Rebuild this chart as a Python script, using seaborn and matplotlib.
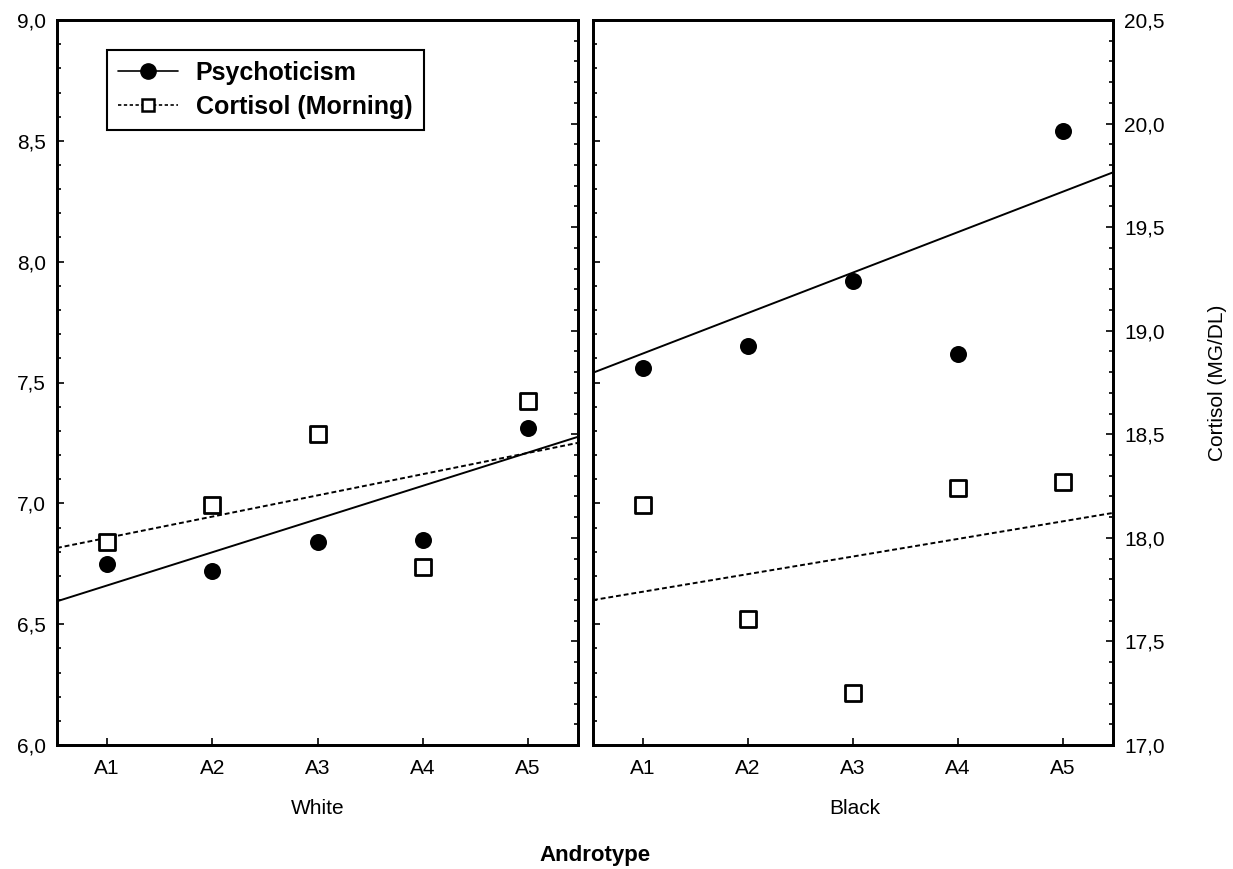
import matplotlib
matplotlib.use("Agg")
import matplotlib.pyplot as plt
from matplotlib.lines import Line2D
from matplotlib.ticker import FuncFormatter, MultipleLocator
import seaborn as sns
import pandas as pd
import numpy as np

# ---- data ----
categories = ["A1", "A2", "A3", "A4", "A5"]
groups = ["White", "Black"]
psych_white = [6.75, 6.72, 6.84, 6.85, 7.31]
cort_white = [17.98, 18.16, 18.50, 17.86, 18.66]
psych_black = [7.56, 7.65, 7.92, 7.62, 8.54]
cort_black = [18.16, 17.61, 17.25, 18.24, 18.27]
# fitted trend values at A1 and A5
psych_trend_white = [6.66, 7.21]
cort_trend_white = [18.00, 18.41]
psych_trend_black = [7.62, 8.29]
cort_trend_black = [17.74, 18.08]

psych_lim = (6.0, 9.0)
cort_lim = (17.0, 20.5)

sns.set_style("ticks")
plt.rcParams["font.family"] = ["Liberation Sans", "DejaVu Sans"]
plt.rcParams["text.color"] = "black"
plt.rcParams["xtick.color"] = "black"
plt.rcParams["ytick.color"] = "black"
plt.rcParams["axes.labelcolor"] = "black"

fig = plt.figure(figsize=(12.33, 8.69), dpi=100)
axL = fig.add_axes([57 / 1233, 1 - 745 / 869, 521 / 1233, 725 / 869])
axR = fig.add_axes([593 / 1233, 1 - 745 / 869, 520 / 1233, 725 / 869])

comma = FuncFormatter(lambda v, p: f"{v:.1f}".replace(".", ","))

panels = [
    (axL, psych_white, cort_white, psych_trend_white, cort_trend_white, True),
    (axR, psych_black, cort_black, psych_trend_black, cort_trend_black, False),
]
xpos = np.arange(len(categories))
for ax, ps, cs, pt, ct, is_left in panels:
    ax2 = ax.twinx()
    df = pd.DataFrame({"x": xpos, "psych": ps, "cort": cs})
    ax.set_xlim(-0.475, 4.475)
    ax.set_ylim(*psych_lim)
    ax2.set_ylim(*cort_lim)
    sns.scatterplot(data=df, x="x", y="psych", ax=ax, marker="o", s=150,
                    color="black", edgecolor="black", linewidth=0, zorder=3)
    sns.scatterplot(data=df, x="x", y="cort", ax=ax2, marker="s", s=120,
                    facecolor="white", edgecolor="black", linewidth=2, zorder=3)
    ax.axline((0, pt[0]), (4, pt[1]), color="black", lw=1.4, ls="-")
    ax2.axline((0, ct[0]), (4, ct[1]), color="black", lw=1.4, ls=(0, (2.5, 1.5)))
    ax.set_xticks(xpos)
    ax.set_xticklabels(categories)
    for a in (ax, ax2):
        a.set_xlabel("")
        a.set_ylabel("")
        a.yaxis.set_major_locator(MultipleLocator(0.5))
        a.yaxis.set_minor_locator(MultipleLocator(0.1))
        a.yaxis.set_major_formatter(comma)
        a.tick_params(axis="both", which="both", direction="in", labelsize=15,
                      color="black", labelcolor="black", width=1.2)
        a.tick_params(axis="both", which="major", length=5)
        a.tick_params(axis="both", which="minor", length=3)
        for s in a.spines.values():
            s.set_visible(True)
            s.set_linewidth(2)
            s.set_color("black")
    ax.tick_params(axis="x", pad=10)
    ax.tick_params(axis="y", pad=8)
    ax2.tick_params(axis="y", pad=8)
    if is_left:
        ax2.tick_params(axis="y", labelright=False)
    else:
        ax.tick_params(axis="y", labelleft=False)
        ax2.set_ylabel("Cortisol (MG/DL)", fontsize=15, labelpad=31, color="black")

    if is_left:
        handles = [
            Line2D([], [], color="black", lw=1.2, ls="-", marker="o",
                   markersize=11, markerfacecolor="black"),
            Line2D([], [], color="black", lw=1.2, ls=(0, (2, 1.5)), marker="s",
                   markersize=9, markerfacecolor="white", markeredgewidth=1.8),
        ]
        leg = ax.legend(handles, ["Psychoticism", "Cortisol (Morning)"],
                        loc="upper left", bbox_to_anchor=(0.096, 0.959),
                        borderaxespad=0, fancybox=False, framealpha=1,
                        edgecolor="black", prop={"size": 18, "weight": "bold"},
                        handlelength=2.4, handletextpad=0.7,
                        borderpad=0.45, labelspacing=0.4)
        leg.get_frame().set_linewidth(1.5)

fig.text(318 / 1233, 1 - 808 / 869, groups[0], ha="center", va="center", fontsize=15)
fig.text(855 / 1233, 1 - 808 / 869, groups[1], ha="center", va="center", fontsize=15)
fig.text(595 / 1233, 1 - 855 / 869, "Androtype", ha="center", va="center",
         fontsize=16, fontweight="semibold")

fig.savefig("out.png", dpi=100, facecolor="white")
